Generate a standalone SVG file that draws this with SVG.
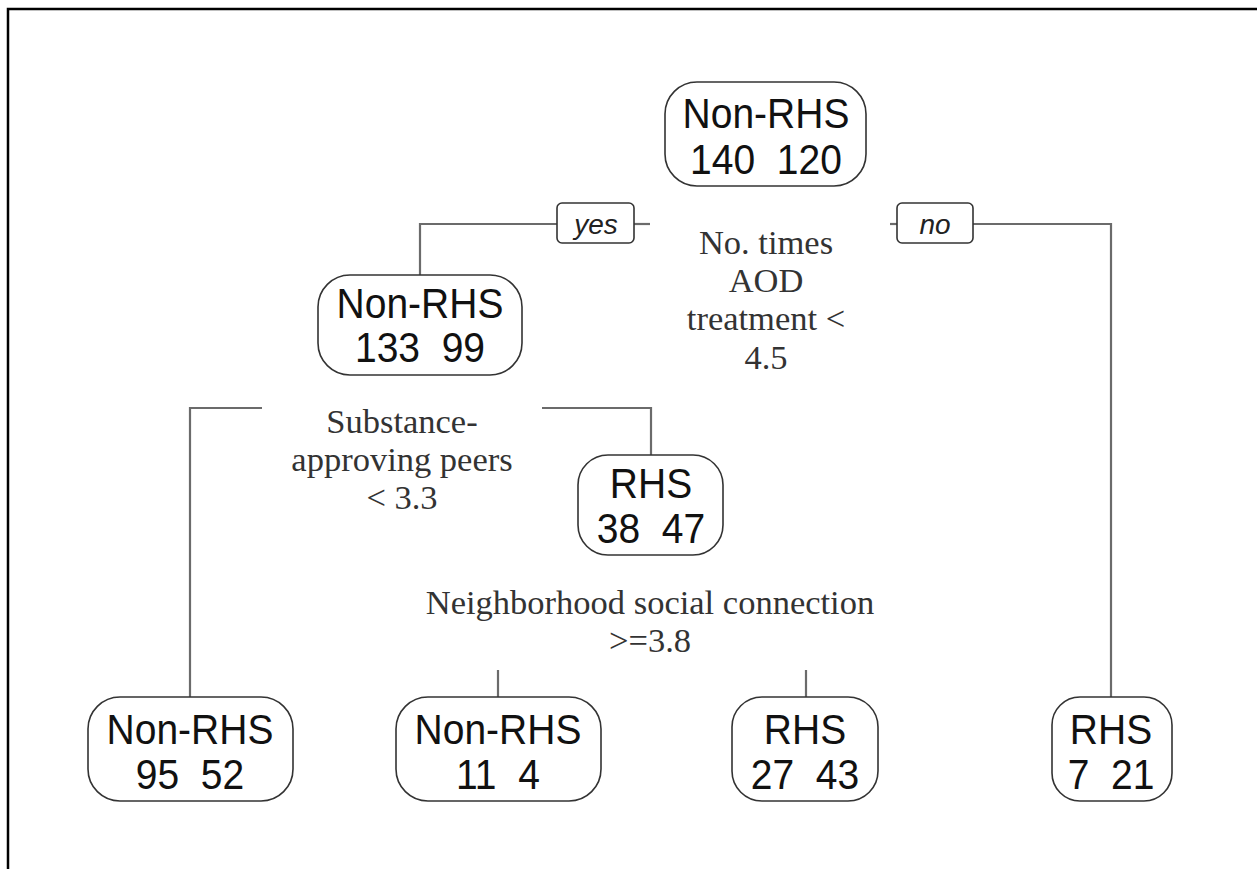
<svg xmlns="http://www.w3.org/2000/svg" width="1257" height="869" viewBox="0 0 1257 869">
<style>
.node rect{fill:#fff;stroke:#333;stroke-width:1.6}
.node text{font-family:"Liberation Sans",Arial,sans-serif;font-size:39px;fill:#111;text-anchor:middle}
.edge{fill:none;stroke:#6b6b6b;stroke-width:2.2}
.lab rect{fill:#fff;stroke:#333;stroke-width:1.6}
.lab text{font-family:"Liberation Sans",Arial,sans-serif;font-size:28px;font-style:italic;fill:#222;text-anchor:middle}
.split{font-family:"Liberation Serif","Times New Roman",serif;font-size:34.5px;fill:#333;text-anchor:middle}
</style>
<rect x="0" y="0" width="1257" height="869" fill="#fff"/>
<path d="M8,869 V9 H1257" fill="none" stroke="#000" stroke-width="2.5"/>
<g id="connectors">
<path class="edge" d="M557,224 H420 V275"/>
<path class="edge" d="M634,224 H650"/>
<path class="edge" d="M890,224 H897"/>
<path class="edge" d="M973,224 H1111 V697"/>
<path class="edge" d="M262,408 H190 V697"/>
<path class="edge" d="M542,408 H651 V455"/>
<path class="edge" d="M498,670 V697"/>
<path class="edge" d="M806,670 V697"/>
</g>
<g id="edge-labels">
<g id="lab-yes" class="lab"><rect x="557" y="203" width="77" height="40" rx="5"/><text x="596" y="234">yes</text></g>
<g id="lab-no" class="lab"><rect x="897" y="203" width="76" height="40" rx="5"/><text x="935" y="234">no</text></g>
</g>
<g id="split-labels">
<text class="split" x="766" y="254">No. times</text>
<text class="split" x="766" y="292">AOD</text>
<text class="split" x="766" y="330">treatment &lt;</text>
<text class="split" x="766" y="369">4.5</text>
<text class="split" x="402" y="433">Substance-</text>
<text class="split" x="402" y="471">approving peers</text>
<text class="split" x="402" y="509">&lt; 3.3</text>
<text class="split" x="650" y="614">Neighborhood social connection</text>
<text class="split" x="650" y="652">&gt;=3.8</text>
</g>
<g id="node-root" class="node"><rect x="665" y="82" width="201" height="104" rx="32"/><text x="766" y="128" transform="matrix(1 0 0 1.08 0 -10.24)">Non-RHS</text><text x="766" y="174" transform="matrix(1 0 0 1.08 0 -13.92)" xml:space="preserve">140  120</text></g>
<g id="node-2" class="node"><rect x="318" y="275" width="204" height="100" rx="32"/><text x="420" y="318" transform="matrix(1 0 0 1.08 0 -25.44)">Non-RHS</text><text x="420" y="362" transform="matrix(1 0 0 1.08 0 -28.96)" xml:space="preserve">133  99</text></g>
<g id="node-3" class="node"><rect x="578" y="455" width="145" height="100" rx="30"/><text x="651" y="498" transform="matrix(1 0 0 1.08 0 -39.84)">RHS</text><text x="651" y="543" transform="matrix(1 0 0 1.08 0 -43.44)" xml:space="preserve">38  47</text></g>
<g id="node-4" class="node"><rect x="88" y="697" width="205" height="104" rx="32"/><text x="190" y="744" transform="matrix(1 0 0 1.08 0 -59.52)">Non-RHS</text><text x="190" y="789" transform="matrix(1 0 0 1.08 0 -63.12)" xml:space="preserve">95  52</text></g>
<g id="node-5" class="node"><rect x="396" y="697" width="205" height="104" rx="32"/><text x="498" y="744" transform="matrix(1 0 0 1.08 0 -59.52)">Non-RHS</text><text x="498" y="789" transform="matrix(1 0 0 1.08 0 -63.12)" xml:space="preserve">11  4</text></g>
<g id="node-6" class="node"><rect x="732" y="697" width="146" height="104" rx="30"/><text x="805" y="744" transform="matrix(1 0 0 1.08 0 -59.52)">RHS</text><text x="805" y="789" transform="matrix(1 0 0 1.08 0 -63.12)" xml:space="preserve">27  43</text></g>
<g id="node-7" class="node"><rect x="1052" y="697" width="120" height="104" rx="28"/><text x="1111" y="744" transform="matrix(1 0 0 1.08 0 -59.52)">RHS</text><text x="1111" y="789" transform="matrix(1 0 0 1.08 0 -63.12)" xml:space="preserve">7  21</text></g>
</svg>
